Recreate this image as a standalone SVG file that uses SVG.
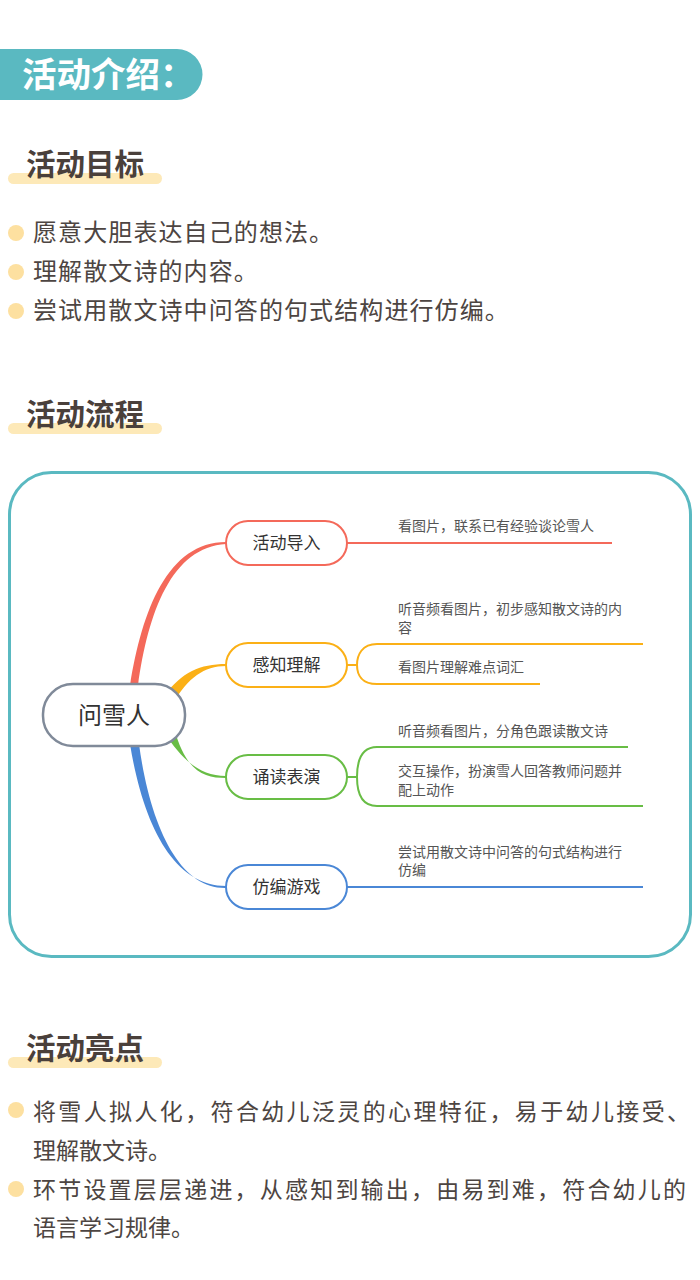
<svg xmlns="http://www.w3.org/2000/svg" width="700" height="1280" viewBox="0 0 700 1280">
<style>
.h{font-family:"Noto Sans CJK SC","Noto Sans",sans-serif;font-weight:700;font-size:29.5px;fill:#4a403b}
.bar{fill:#fde9b8}
.dot{fill:#fde0a0}
.b{font-family:"Noto Sans CJK SC","Noto Sans",sans-serif;font-size:23px;fill:#4d4542}
.t{font-size:24px;letter-spacing:1.1px}
.nl{font-family:"Noto Sans CJK SC","Noto Sans",sans-serif;font-size:17px;fill:#333;text-anchor:middle}
.st{font-family:"Noto Sans CJK SC","Noto Sans",sans-serif;font-size:14px;fill:#555}
.node{fill:#fff;stroke-width:2}
.ln{fill:none;stroke-width:2}
</style>
<rect width="700" height="1280" fill="#fff"/>
<g id="header">
<path d="M-30,49 H177 A25.5,25.5 0 0 1 177,100 H-30 Z" fill="#5ab9c1"/>
<text x="22" y="87" font-family="Noto Sans CJK SC,sans-serif" font-weight="700" font-size="34.5" fill="#fff">活动介绍：</text>
</g>
<g id="goals">
<rect class="bar" x="8" y="173" width="154" height="11" rx="5.5"/>
<text class="h" x="26" y="175">活动目标</text>
<circle class="dot" cx="16" cy="233" r="8"/>
<circle class="dot" cx="16" cy="272" r="8"/>
<circle class="dot" cx="16" cy="311" r="8"/>
<text class="b t" x="33" y="241">愿意大胆表达自己的想法。</text>
<text class="b t" x="33" y="280">理解散文诗的内容。</text>
<text class="b t" x="33" y="319">尝试用散文诗中问答的句式结构进行仿编。</text>
</g>
<g id="flow-title">
<rect class="bar" x="8" y="423" width="154" height="11" rx="5.5"/>
<text class="h" x="26" y="425">活动流程</text>
</g>
<rect id="frame" x="9.5" y="472.5" width="681" height="484" rx="42" fill="none" stroke="#5ab9c1" stroke-width="3"/>
<g id="connectors">
<path d="M130,686 C142,610 168,542 226,542 L226,544 C172,547 148,612 138,686 Z" fill="#f4695a"/>
<path d="M164,696 C182,672 200,664 226,664 L226,666 C204,666 188,678 174,702 Z" fill="#fbb016"/>
<path d="M164,732 C182,760 200,776 226,776 L226,778 C204,778 186,772 174,728 Z" fill="#68bd45"/>
<path d="M130,744 C144,830 176,886 226,886 L226,888 C182,889 151,832 139,744 Z" fill="#4a87d6"/>
<path class="ln" stroke="#f4695a" d="M347,543 H612"/>
<path class="ln" stroke="#fbb016" d="M347,665 H357 M377,644 C362,644 357,655 357,665 C357,675 362,684 377,684 M377,644 H643 M377,684 H540"/>
<path class="ln" stroke="#68bd45" d="M347,777 H357 M377,747 C362,747 357,760 357,777 C357,794 362,806 377,806 M377,747 H628 M377,806 H643"/>
<path class="ln" stroke="#4a87d6" d="M347,887 H643"/>
</g>
<g id="root">
<rect x="43" y="684" width="142" height="62" rx="30" fill="#fff" stroke="#808a99" stroke-width="2.5"/>
<text x="114" y="724" font-family="Noto Sans CJK SC,sans-serif" font-size="24" fill="#333" text-anchor="middle">问雪人</text>
</g>
<g id="n1">
<rect class="node" x="226" y="521" width="121" height="44" rx="22" stroke="#f4695a"/>
<text class="nl" x="286.5" y="549">活动导入</text>
<text class="st" x="398" y="531">看图片，联系已有经验谈论雪人</text>
</g>
<g id="n2">
<rect class="node" x="226" y="643" width="121" height="44" rx="22" stroke="#fbb016"/>
<text class="nl" x="286.5" y="671">感知理解</text>
<text class="st" x="398" y="614">听音频看图片，初步感知散文诗的内</text>
<text class="st" x="398" y="633">容</text>
<text class="st" x="398" y="672">看图片理解难点词汇</text>
</g>
<g id="n3">
<rect class="node" x="226" y="755" width="121" height="44" rx="22" stroke="#68bd45"/>
<text class="nl" x="286.5" y="783">诵读表演</text>
<text class="st" x="398" y="736">听音频看图片，分角色跟读散文诗</text>
<text class="st" x="398" y="776">交互操作，扮演雪人回答教师问题并</text>
<text class="st" x="398" y="795">配上动作</text>
</g>
<g id="n4">
<rect class="node" x="226" y="865" width="121" height="44" rx="22" stroke="#4a87d6"/>
<text class="nl" x="286.5" y="893">仿编游戏</text>
<text class="st" x="398" y="857">尝试用散文诗中问答的句式结构进行</text>
<text class="st" x="398" y="875">仿编</text>
</g>
<g id="highlights">
<rect class="bar" x="8" y="1057" width="154" height="11" rx="5.5"/>
<text class="h" x="26" y="1059">活动亮点</text>
<circle class="dot" cx="16" cy="1110" r="8"/>
<circle class="dot" cx="16" cy="1189" r="8"/>
<text class="b" x="33" y="1120" textLength="657" lengthAdjust="spacing">将雪人拟人化，符合幼儿泛灵的心理特征，易于幼儿接受、</text>
<text class="b" x="33" y="1159">理解散文诗。</text>
<text class="b" x="33" y="1198" textLength="653" lengthAdjust="spacing">环节设置层层递进，从感知到输出，由易到难，符合幼儿的</text>
<text class="b" x="33" y="1236">语言学习规律。</text>
</g>
</svg>
